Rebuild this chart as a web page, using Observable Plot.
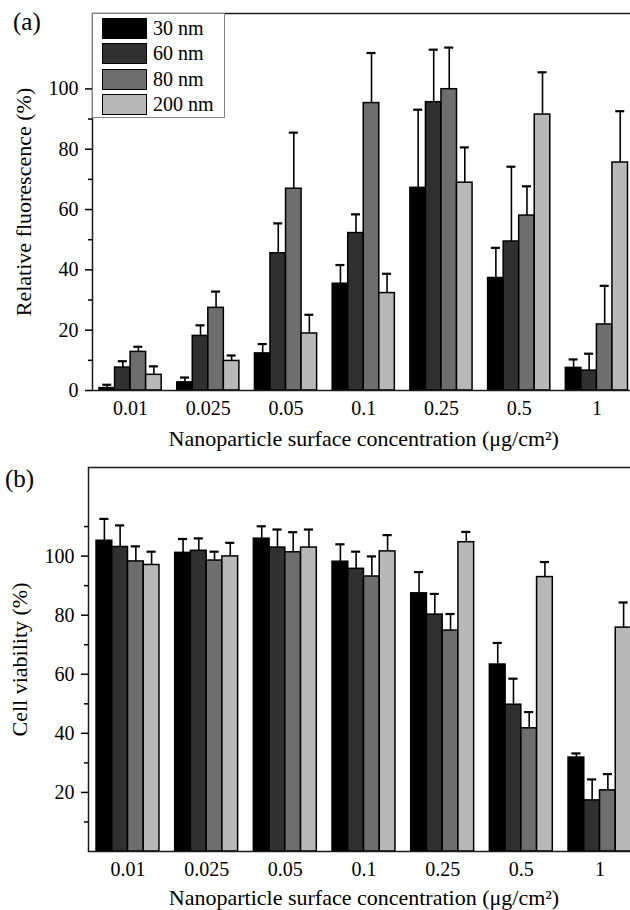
<!DOCTYPE html>
<html>
<head>
<meta charset="utf-8">
<script src="https://cdn.jsdelivr.net/npm/d3@7"></script>
<script src="https://cdn.jsdelivr.net/npm/@observablehq/plot@0.6"></script>
<style>
  html, body { margin: 0; padding: 0; background: #fff; }
  body { width: 630px; height: 910px; overflow: hidden; font-family: "Liberation Serif", "Times New Roman", serif; color: #000; }
  .panel { position: relative; width: 630px; height: 455px; overflow: hidden; }
  .panel svg { display: block; }
  .tag { position: absolute; font-size: 25px; line-height: 28px; }
  .legend { position: absolute; left: 92px; top: 13px; width: 133px; height: 105px; box-sizing: border-box;
            border: 1px solid #808080; background: #fff; }
  .legend .row { position: absolute; left: 9px; height: 25px; display: flex; align-items: center; font-size: 20px; }
  .legend .sw { width: 45px; height: 21px; box-sizing: border-box; border: 1.5px solid #000; margin-right: 6px; }
</style>
</head>
<body>
<div class="panel" id="pa"><div class="tag" style="left:13px;top:8px">(a)</div></div>
<div class="panel" id="pb"><div class="tag" style="left:5px;top:10px">(b)</div></div>
<script>
// ---- categories ----
const concentrations = ["0.01", "0.025", "0.05", "0.1", "0.25", "0.5", "1"];
const sizes = ["30 nm", "60 nm", "80 nm", "200 nm"];
const sizeColors = ["#000000", "#303030", "#6e6e6e", "#b8b8b8"];
const xTitle = "Nanoparticle surface concentration (\u03bcg/cm\u00b2)";

// ---- panel (a): relative fluorescence (%), mean and +error ----
const fluor30 = [0.8, 2.7, 12.3, 35.4, 67.2, 37.3, 7.5];
const fluor30Err = [1.1, 1.6, 3.1, 6.2, 25.9, 10.0, 2.8];
const fluor60 = [7.6, 18.1, 45.5, 52.2, 95.6, 49.4, 6.6];
const fluor60Err = [2.1, 3.5, 9.9, 6.2, 17.4, 24.8, 5.6];
const fluor80 = [12.8, 27.4, 66.9, 95.3, 99.9, 58.0, 21.9];
const fluor80Err = [1.7, 5.4, 18.6, 16.6, 13.8, 9.7, 12.8];
const fluor200 = [5.2, 9.8, 18.9, 32.3, 68.9, 91.5, 75.6];
const fluor200Err = [2.8, 1.8, 6.2, 6.4, 11.7, 14.0, 17.0];
const fluorTicks = [0, 20, 40, 60, 80, 100];
const fluorMinorTicks = [10, 30, 50, 70, 90];

// ---- panel (b): cell viability (%), mean and +error ----
const viab30 = [105.2, 101.1, 105.9, 98.1, 87.4, 63.3, 31.8];
const viab30Err = [7.4, 4.7, 4.2, 5.9, 7.2, 7.3, 1.4];
const viab60 = [103.1, 101.8, 102.9, 95.7, 80.2, 49.7, 17.3];
const viab60Err = [7.3, 4.2, 6.1, 5.8, 7.0, 8.8, 7.1];
const viab80 = [98.2, 98.5, 101.3, 93.1, 74.8, 41.7, 20.7];
const viab80Err = [5.1, 3.0, 6.8, 6.8, 5.6, 5.5, 5.5];
const viab200 = [97.0, 99.9, 102.9, 101.6, 104.7, 92.9, 75.8];
const viab200Err = [4.5, 4.6, 6.1, 5.5, 3.5, 5.1, 8.5];
const viabTicks = [20, 40, 60, 80, 100];
const viabMinorTicks = [10, 30, 50, 70, 90, 110];

// ---- layout constants ----
const groupStep = 5;     // 4 bars + 1 bar-width gap per concentration
const capHalf = 0.29;    // half width of error caps (in bar units)

function buildRows(series, errors) {
  const rows = [];
  concentrations.forEach((c, g) => {
    sizes.forEach((s, i) => {
      rows.push({conc: c, size: s, g, i, v: series[i][g], e: errors[i][g]});
    });
  });
  return rows;
}

function makePanel(opts) {
  const rows = buildRows(opts.series, opts.errors);
  const xs = d => d.g * groupStep + d.i;
  const xm = d => d.g * groupStep + d.i + 0.5;
  const groupCenters = concentrations.map((c, g) => g * groupStep + sizes.length / 2);
  const xMax = (concentrations.length - 1) * groupStep + sizes.length;
  return Plot.plot({
    width: 630,
    height: 455,
    marginLeft: opts.marginLeft,
    marginRight: opts.marginRight,
    marginTop: opts.marginTop,
    marginBottom: opts.marginBottom,
    style: {fontFamily: "'Liberation Serif', 'Times New Roman', serif", fontSize: "20px", color: "#000", background: "transparent", overflow: "hidden"},
    x: {type: "linear", domain: [-opts.xPad, xMax + opts.xPad], axis: null},
    y: {domain: opts.yDomain, axis: null},
    color: {domain: sizes, range: sizeColors},
    marks: [
      Plot.rect(rows, {x1: xs, x2: d => xs(d) + 1, y1: 0, y2: "v", fill: "size", stroke: "#000", strokeWidth: 1.5}),
      Plot.ruleX(rows, {x: xm, y1: "v", y2: d => d.v + d.e, stroke: "#000", strokeWidth: 1.6}),
      Plot.ruleY(rows, {y: d => d.v + d.e, x1: d => xm(d) - capHalf, x2: d => xm(d) + capHalf, stroke: "#000", strokeWidth: 2.2}),
      Plot.axisY(opts.majorTicks, {tickSize: 7, tickPadding: 7, stroke: "#000", strokeWidth: 1.5, label: null, fontSize: 20}),
      Plot.axisY(opts.minorTicks, {tickSize: 4, tickFormat: () => "", stroke: "#000", strokeWidth: 1.5, label: null}),
      Plot.axisX(groupCenters, {tickSize: 0, tickPadding: 10, tickFormat: t => concentrations[groupCenters.indexOf(t)], label: null, fontSize: 20}),
      Plot.frame({stroke: "#1a1a1a", strokeWidth: 1.5}),
      Plot.text([xTitle], {frameAnchor: "bottom", textAnchor: "middle", lineAnchor: "middle", dy: opts.xTitleDy, fontSize: 22, fill: "#000"}),
      Plot.text([opts.yTitle], {frameAnchor: "left", textAnchor: "middle", lineAnchor: "middle", rotate: -90, dx: -69, fontSize: 22, fill: "#000"})
    ]
  });
}

const chartA = makePanel({
  series: [fluor30, fluor60, fluor80, fluor200],
  errors: [fluor30Err, fluor60Err, fluor80Err, fluor200Err],
  yDomain: [0, 125], majorTicks: fluorTicks, minorTicks: fluorMinorTicks,
  yTitle: "Relative fluorescence (%)",
  marginLeft: 92, marginRight: -4.5, marginTop: 13, marginBottom: 65, xPad: 0.45, xTitleDy: 48
});
const chartB = makePanel({
  series: [viab30, viab60, viab80, viab200],
  errors: [viab30Err, viab60Err, viab80Err, viab200Err],
  yDomain: [0, 130], majorTicks: viabTicks, minorTicks: viabMinorTicks,
  yTitle: "Cell viability (%)",
  marginLeft: 88, marginRight: -9, marginTop: 12, marginBottom: 59, xPad: 0.51, xTitleDy: 46
});

const pa = document.getElementById("pa");
const pb = document.getElementById("pb");
pa.insertBefore(chartA, pa.firstChild);
pb.insertBefore(chartB, pb.firstChild);

// legend inside panel (a)
const legend = document.createElement("div");
legend.className = "legend";
sizes.forEach((s, i) => {
  const row = document.createElement("div");
  row.className = "row";
  row.style.top = (2 + i * 25.3) + "px";
  const sw = document.createElement("div");
  sw.className = "sw";
  sw.style.background = sizeColors[i];
  const label = document.createElement("span");
  label.textContent = s;
  row.appendChild(sw);
  row.appendChild(label);
  legend.appendChild(row);
});
pa.appendChild(legend);
</script>
</body>
</html>
